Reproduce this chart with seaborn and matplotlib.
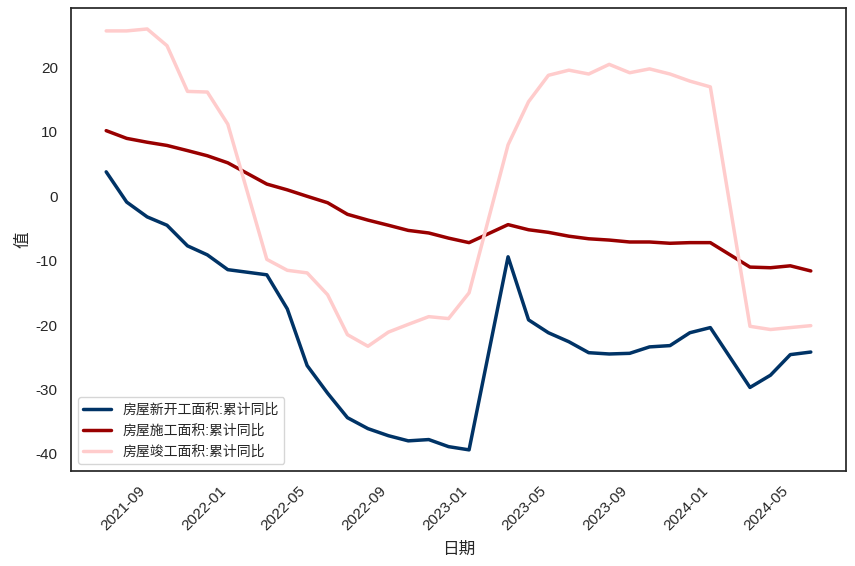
import pandas as pd
import matplotlib
matplotlib.use('Agg')
import matplotlib.pyplot as plt
import seaborn as sns

# month-end dates (no January release: Jan-Feb combined)
dates = (['2021-06-30', '2021-07-31', '2021-08-31', '2021-09-30', '2021-10-31', '2021-11-30', '2021-12-31']
         + ['2022-02-28', '2022-03-31', '2022-04-30', '2022-05-31', '2022-06-30', '2022-07-31',
            '2022-08-31', '2022-09-30', '2022-10-31', '2022-11-30', '2022-12-31']
         + ['2023-02-28', '2023-03-31', '2023-04-30', '2023-05-31', '2023-06-30', '2023-07-31',
            '2023-08-31', '2023-09-30', '2023-10-31', '2023-11-30', '2023-12-31']
         + ['2024-02-29', '2024-03-31', '2024-04-30', '2024-05-31'])

new_start = [3.8, -0.9, -3.2, -4.5, -7.7, -9.1, -11.4,
             -12.2, -17.5, -26.3, -30.6, -34.4, -36.1, -37.2, -38.0, -37.8, -38.9, -39.4,
             -9.4, -19.2, -21.2, -22.6, -24.3, -24.5, -24.4, -23.4, -23.2, -21.2, -20.4,
             -29.7, -27.8, -24.6, -24.2]
under_constr = [10.2, 9.0, 8.4, 7.9, 7.1, 6.3, 5.2,
                1.9, 1.0, 0.0, -1.0, -2.8, -3.7, -4.5, -5.3, -5.7, -6.5, -7.2,
                -4.4, -5.2, -5.6, -6.2, -6.6, -6.8, -7.1, -7.1, -7.3, -7.2, -7.2,
                -11.0, -11.1, -10.8, -11.6]
completed = [25.7, 25.7, 26.0, 23.4, 16.3, 16.2, 11.2,
             -9.8, -11.5, -11.9, -15.3, -21.5, -23.3, -21.1, -19.9, -18.7, -19.0, -15.0,
             8.0, 14.7, 18.8, 19.6, 19.0, 20.5, 19.2, 19.8, 19.0, 17.9, 17.0,
             -20.2, -20.7, -20.4, -20.1]

names = ['房屋新开工面积:累计同比', '房屋施工面积:累计同比', '房屋竣工面积:累计同比']
colors = ['#003366', '#990000', '#ffcccc']

df = pd.DataFrame({'日期': pd.to_datetime(dates),
                   names[0]: new_start, names[1]: under_constr, names[2]: completed})
long_df = df.melt(id_vars='日期', var_name='指标', value_name='值')

sns.set_theme(style='white')
plt.rcParams['font.family'] = ['Liberation Sans', 'Noto Sans CJK SC']
plt.rcParams['axes.unicode_minus'] = False

fig, ax = plt.subplots(figsize=(8.55, 5.66), dpi=100)
fig.subplots_adjust(left=0.083, right=0.9895, top=0.986, bottom=0.168)
sns.lineplot(data=long_df, x='日期', y='值', hue='指标', palette=colors, linewidth=2.5, ax=ax)
ax.legend(loc='lower left', fontsize=10)
plt.xticks(rotation=45, ha='right')
ax.set_xlabel('日期', labelpad=6)
ax.set_ylabel('值')
plt.savefig('out.png', dpi=100)
